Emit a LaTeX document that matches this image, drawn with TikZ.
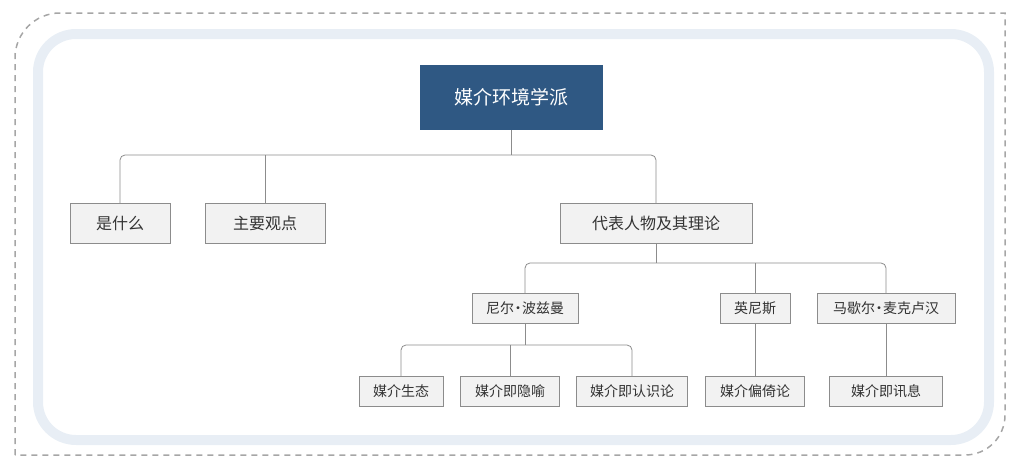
\documentclass[tikz,border=0pt]{standalone}
\usepackage{fontspec}
\setmainfont{Noto Sans CJK SC}
\definecolor{rootblue}{HTML}{2F5883}
\definecolor{boxgray}{HTML}{F2F2F2}
\definecolor{edgegray}{HTML}{8C8C8C}
\definecolor{bandblue}{HTML}{E8EEF5}
\tikzset{
  topic/.style={draw=edgegray, fill=boxgray, font=\fontsize{14}{16}\selectfont, text=black!80, inner sep=0pt},
  link/.style={draw=edgegray, line width=0.8pt, rounded corners=5pt},
}
\begin{document}
\begin{tikzpicture}[x=1pt,y=-1pt]
  \useasboundingbox (0,0) rectangle (1020,463);
  % outer frame
  \draw[gray!70, line width=1.5pt, dash pattern=on 6pt off 5pt, rounded corners=45]
    (15,455) -- (15,13) [sharp corners] -- (1005,13) [rounded corners=40] -- (1005,455) [sharp corners] -- cycle;
  \draw[bandblue, line width=10pt, rounded corners=38] (38,34) rectangle (989,440); % band

  \node[fill=rootblue, text=white, minimum width=183pt, minimum height=65pt, font=\fontsize{19}{22}\selectfont] (root) at (511.5,97.5) {媒介环境学派};

  \node[topic, minimum width=100pt, minimum height=40pt, font=\fontsize{16}{18}\selectfont] (what) at (120,223) {是什么};
  \node[topic, minimum width=120pt, minimum height=40pt, font=\fontsize{16}{18}\selectfont] (view) at (265,223) {主要观点};
  \node[topic, minimum width=192pt, minimum height=40pt, font=\fontsize{16}{18}\selectfont] (rep) at (656,223) {代表人物及其理论};

  \node[topic, minimum width=106pt, minimum height=30pt] (post) at (525,308) {尼尔{\kern-3pt}·{\kern-3pt}波兹曼};
  \node[topic, minimum width=70pt, minimum height=30pt] (innis) at (755,308) {英尼斯};
  \node[topic, minimum width=138pt, minimum height=30pt] (mcl) at (886,308) {马歇尔{\kern-3pt}·{\kern-3pt}麦克卢汉};

  \node[topic, minimum width=84pt, minimum height=30pt] (eco) at (401,391) {媒介生态};
  \node[topic, minimum width=99pt, minimum height=30pt] (meta) at (510,391) {媒介即隐喻};
  \node[topic, minimum width=111pt, minimum height=30pt] (epis) at (632,391) {媒介即认识论};
  \node[topic, minimum width=99pt, minimum height=30pt] (bias) at (755,391) {媒介偏倚论};
  \node[topic, minimum width=113pt, minimum height=30pt] (msg) at (886,391) {媒介即讯息};

  \draw[link] (root.south) -- (root.south |- 0,155);
  \draw[link] (what.north) |- (rep.north |- 0,155) -- (rep.north);
  \draw[link] (view.north) -- (view.north |- 0,155);

  \draw[link] (rep.south) -- (rep.south |- 0,263);
  \draw[link] (post.north) |- (mcl.north |- 0,263) -- (mcl.north);
  \draw[link] (innis.north |- 0,263) -- (innis.north);

  \draw[link] (post.south) -- (post.south |- 0,345);
  \draw[link] (eco.north) |- (epis.north |- 0,345) -- (epis.north);
  \draw[link] (meta.north |- 0,345) -- (meta.north);

  \draw[link] (innis.south) -- (bias.north);
  \draw[link] (mcl.south) -- (msg.north);
\end{tikzpicture}
\end{document}
